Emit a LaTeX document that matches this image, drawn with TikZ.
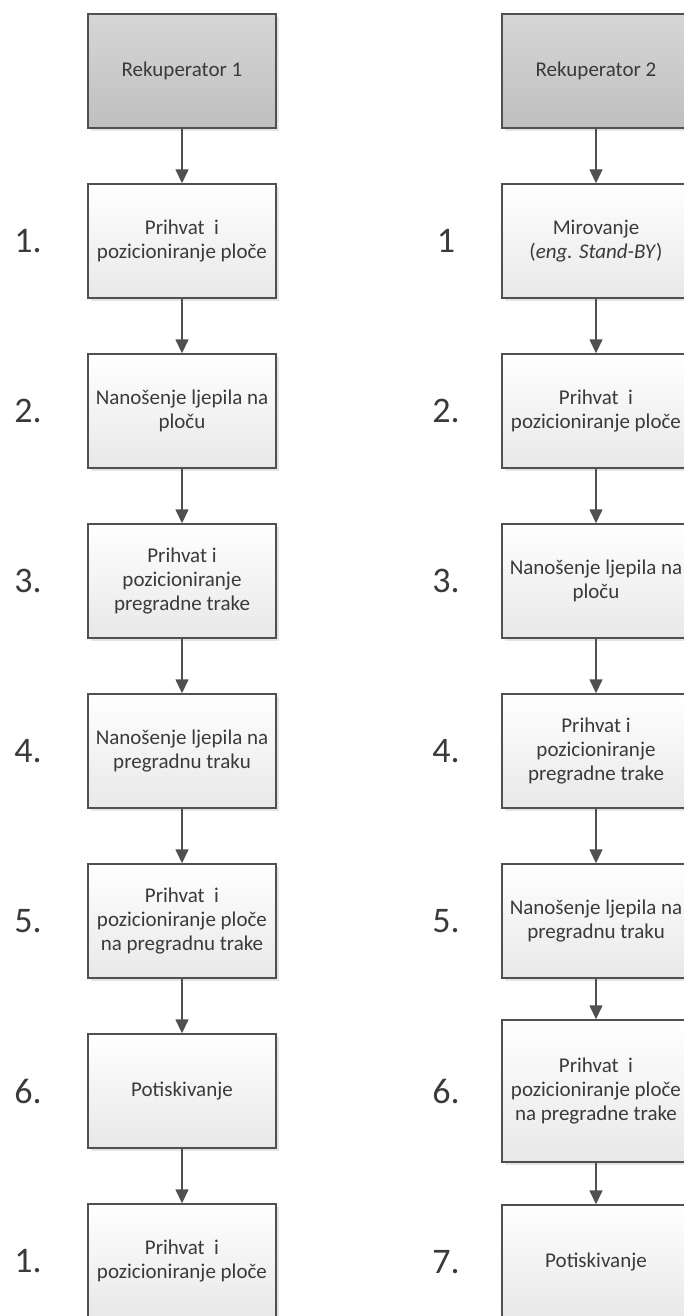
\documentclass[tikz,border=0pt]{standalone}
\usepackage{fontspec}
\setmainfont{Carlito}
\newfontfamily\carl{Carlito}
\usetikzlibrary{arrows.meta,shadows}
\definecolor{edgec}{HTML}{505050}
\definecolor{txt}{HTML}{3A3A3A}
\newcommand{\boxfont}{\carl\fontsize{21}{24}\selectfont}
\newcommand{\lblfont}{\carl\fontsize{36}{40}\selectfont}
\begin{document}
\begin{tikzpicture}[x=1pt,y=-1pt,
  base/.style={draw=edgec, line width=1.4pt, minimum width=188pt, minimum height=114pt,
    align=center, text=txt, font=\boxfont, inner sep=2pt,
    drop shadow={shadow xshift=3pt, shadow yshift=-3pt, fill=black, opacity=0.10}},
  stepbox/.style={base, top color=white, bottom color=black!9},
  headbox/.style={base, top color=black!16, bottom color=black!25},
  tallbox/.style={stepbox, minimum height=142pt},
  arr/.style={draw=edgec, line width=1.4pt, -{Triangle[width=13pt,length=14pt]}},
  lbl/.style={font=\lblfont, text=txt}]
\useasboundingbox (0,0) rectangle (684,1316);
\fill[white] (0,0) rectangle (684,1316);
% left column
\node[headbox] (r1) at (182,71) {Rekuperator 1};
\node[stepbox] (l1) at (182,241) {Prihvat\ \ i\\pozicioniranje ploče};
\node[stepbox] (l2) at (182,411) {Nanošenje ljepila na\\ploču};
\node[stepbox] (l3) at (182,581) {Prihvat i\\pozicioniranje\\pregradne trake};
\node[stepbox] (l4) at (182,751) {Nanošenje ljepila na\\pregradnu traku};
\node[stepbox] (l5) at (182,921) {Prihvat\ \ i\\pozicioniranje ploče\\na pregradnu trake};
\node[stepbox] (l6) at (182,1091) {Potiskivanje};
\node[stepbox] (l7) at (182,1261) {Prihvat\ \ i\\pozicioniranje ploče};
\node[lbl] (n1) at (28,241) {1.};
\node[lbl] (n2) at (28,411) {2.};
\node[lbl] (n3) at (28,581) {3.};
\node[lbl] (n4) at (28,751) {4.};
\node[lbl] (n5) at (28,921) {5.};
\node[lbl] (n6) at (28,1091) {6.};
\node[lbl] (n7) at (28,1261) {1.};
\draw[arr] (r1.south) -- (l1.north);
\draw[arr] (l1.south) -- (l2.north);
\draw[arr] (l2.south) -- (l3.north);
\draw[arr] (l3.south) -- (l4.north);
\draw[arr] (l4.south) -- (l5.north);
\draw[arr] (l5.south) -- (l6.north);
\draw[arr] (l6.south) -- (l7.north);
% right column
\node[headbox] (r2) at (596,71) {Rekuperator 2};
\node[stepbox] (q1) at (596,241) {Mirovanje\\(\textit{eng. Stand-BY})};
\node[stepbox] (q2) at (596,411) {Prihvat\ \ i\\pozicioniranje ploče};
\node[stepbox] (q3) at (596,581) {Nanošenje ljepila na\\ploču};
\node[stepbox] (q4) at (596,751) {Prihvat i\\pozicioniranje\\pregradne trake};
\node[stepbox] (q5) at (596,921) {Nanošenje ljepila na\\pregradnu traku};
\node[tallbox] (q6) at (596,1091) {Prihvat\ \ i\\pozicioniranje ploče\\na pregradne trake};
\node[stepbox] (q7) at (596,1262) {Potiskivanje};
\node[lbl] (m1) at (446,241) {1};
\node[lbl] (m2) at (446,411) {2.};
\node[lbl] (m3) at (446,581) {3.};
\node[lbl] (m4) at (446,751) {4.};
\node[lbl] (m5) at (446,921) {5.};
\node[lbl] (m6) at (446,1091) {6.};
\node[lbl] (m7) at (446,1262) {7.};
\draw[arr] (r2.south) -- (q1.north);
\draw[arr] (q1.south) -- (q2.north);
\draw[arr] (q2.south) -- (q3.north);
\draw[arr] (q3.south) -- (q4.north);
\draw[arr] (q4.south) -- (q5.north);
\draw[arr] (q5.south) -- (q6.north);
\draw[arr] (q6.south) -- (q7.north);
\end{tikzpicture}
\end{document}
